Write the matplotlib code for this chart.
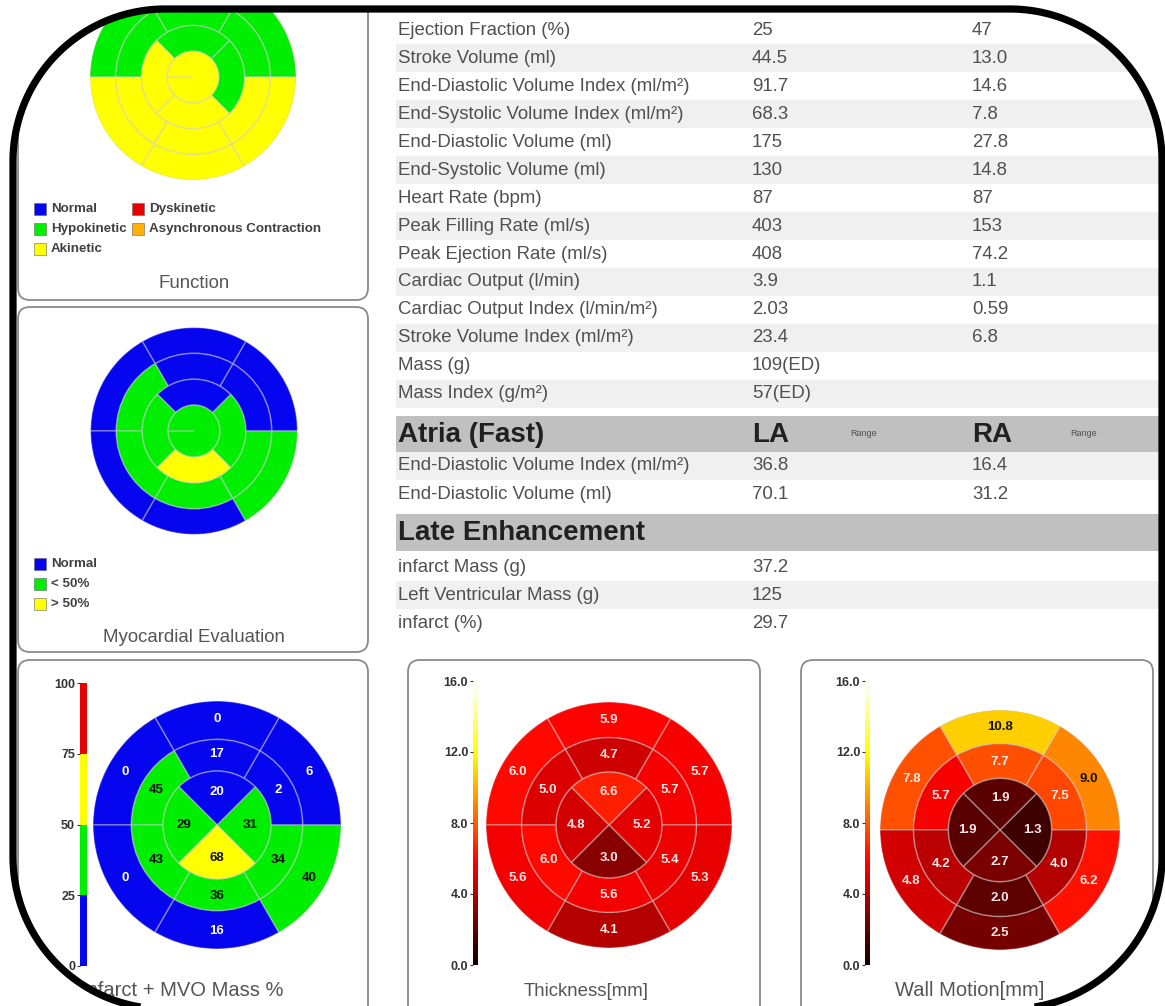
import numpy as np
import matplotlib
matplotlib.use("Agg")
import matplotlib.pyplot as plt
from matplotlib.patches import FancyBboxPatch, Rectangle, PathPatch
from matplotlib.path import Path
from matplotlib.colors import ListedColormap, BoundaryNorm, Normalize
from matplotlib.cm import ScalarMappable

plt.rcParams['font.family'] = ['Liberation Sans', 'DejaVu Sans']

# ---------------- table data ----------------
ventricle_labels = ["Ejection Fraction (%)", "Stroke Volume (ml)",
                    "End-Diastolic Volume Index (ml/m²)", "End-Systolic Volume Index (ml/m²)",
                    "End-Diastolic Volume (ml)", "End-Systolic Volume (ml)", "Heart Rate (bpm)",
                    "Peak Filling Rate (ml/s)", "Peak Ejection Rate (ml/s)", "Cardiac Output (l/min)",
                    "Cardiac Output Index (l/min/m²)", "Stroke Volume Index (ml/m²)", "Mass (g)",
                    "Mass Index (g/m²)"]
lv_values = ["25", "44.5", "91.7", "68.3", "175", "130", "87", "403", "408", "3.9", "2.03",
             "23.4", "109(ED)", "57(ED)"]
rv_values = ["47", "13.0", "14.6", "7.8", "27.8", "14.8", "87", "153", "74.2", "1.1", "0.59",
             "6.8", "", ""]
atria_labels = ["End-Diastolic Volume Index (ml/m²)", "End-Diastolic Volume (ml)"]
la_values = ["36.8", "70.1"]
ra_values = ["16.4", "31.2"]
late_labels = ["infarct Mass (g)", "Left Ventricular Mass (g)", "infarct (%)"]
late_values = ["37.2", "125", "29.7"]

# ---------------- bullseye data ----------------
# basal & mid rings ordered by segment centre angle 30,90,150,210,270,330 deg
# apical ring ordered by centre angle 0,90,180,270 deg
function_basal = ["Hypokinetic", "Hypokinetic", "Hypokinetic", "Akinetic", "Akinetic", "Akinetic"]
function_mid = ["Hypokinetic", "Hypokinetic", "Hypokinetic", "Akinetic", "Akinetic", "Akinetic"]
function_apical = ["Hypokinetic", "Hypokinetic", "Akinetic", "Akinetic"]
function_apex = "Akinetic"
function_legend = ["Normal", "Dyskinetic", "Hypokinetic", "Asynchronous Contraction", "Akinetic"]

myo_basal = ["Normal", "Normal", "Normal", "Normal", "Normal", "< 50%"]
myo_mid = ["Normal", "Normal", "< 50%", "< 50%", "< 50%", "< 50%"]
myo_apical = ["< 50%", "Normal", "< 50%", "> 50%"]
myo_apex = "< 50%"
myo_legend = ["Normal", "< 50%", "> 50%"]

infarct_basal = [6, 0, 0, 0, 16, 40]
infarct_mid = [2, 17, 45, 43, 36, 34]
infarct_apical = [31, 20, 29, 68]
infarct_bounds = [0, 25, 50, 75, 100]

thick_basal = [5.7, 5.9, 6.0, 5.6, 4.1, 5.3]
thick_mid = [5.7, 4.7, 5.0, 6.0, 5.6, 5.4]
thick_apical = [5.2, 6.6, 4.8, 3.0]

wall_basal = [9.0, 10.8, 7.8, 4.8, 2.5, 6.2]
wall_mid = [7.5, 7.7, 5.7, 4.2, 2.0, 4.0]
wall_apical = [1.3, 1.9, 1.9, 2.7]
mm_ticks = [0, 4, 8, 12, 16]

# ---------------- styling ----------------
BLUE, GREEN, YELLOW, RED, ORANGE = '#0505f0', '#00ee00', '#ffff00', '#e80000', '#ffb000'
cat_color = {"Normal": BLUE, "Dyskinetic": RED, "Hypokinetic": GREEN,
             "Asynchronous Contraction": ORANGE, "Akinetic": YELLOW,
             "< 50%": GREEN, "> 50%": YELLOW}
EDGE = dict(edgecolor=(0.8, 0.8, 0.8, 0.45), linewidth=1.1)
TXT = '#505050'
FS = 13.4

W, H = 1165, 1006
fig = plt.figure(figsize=(W / 100, H / 100), dpi=100)
base = fig.add_axes([0, 0, 1, 1])
base.set_xlim(0, W)
base.set_ylim(H, 0)
base.set_axis_off()

# ---------------- panels ----------------
def panel(x0, y0, x1, y1):
    base.add_patch(FancyBboxPatch((x0, y0), x1 - x0, y1 - y0,
                                  boxstyle="round,pad=0,rounding_size=12",
                                  facecolor='white', edgecolor='#8a8a8a', linewidth=1.3))

panel(18, -30, 368, 300)
panel(18, 307, 368, 652)
panel(18, 660, 368, 1040)
panel(408, 660, 760, 1040)
panel(801, 660, 1153, 1040)

base.text(194, 283, "Function", ha='center', va='center', fontsize=13.4, color='#555555')
base.text(194, 638, "Myocardial Evaluation", ha='center', va='center', fontsize=13.4, color='#555555')
base.text(182, 991, "Infarct + MVO Mass %", ha='center', va='center', fontsize=14.5, color='#555555')
base.text(586, 991, "Thickness[mm]", ha='center', va='center', fontsize=13.4, color='#555555')
base.text(970, 990, "Wall Motion[mm]", ha='center', va='center', fontsize=14.5, color='#555555')

# legends
def legend_item(x, y, label):
    base.add_patch(Rectangle((x, y - 6), 12, 12, facecolor=cat_color[label],
                             edgecolor='#666666', linewidth=0.4))
    base.text(x + 17, y, label, ha='left', va='center', fontsize=9.6,
              fontweight='bold', color='#404040')

func_pos = [(34, 209), (132, 209), (34, 229), (132, 229), (34, 249)]
for (x, y), lab in zip(func_pos, function_legend):
    legend_item(x, y, lab)
for i, lab in enumerate(myo_legend):
    legend_item(34, 564 + 20 * i, lab)

# ---------------- table ----------------
ROW0, PITCH = 30, 28
TX, C1, C2 = 398, 752, 972
for i, (lab, a, b) in enumerate(zip(ventricle_labels, lv_values, rv_values)):
    yc = ROW0 + PITCH * i
    if i % 2 == 1:
        base.add_patch(Rectangle((396, yc - 14), W, PITCH, facecolor='#f0f0f0', edgecolor='none'))
    base.text(TX, yc, lab, ha='left', va='center', fontsize=FS, color=TXT)
    base.text(C1, yc, a, ha='left', va='center', fontsize=FS, color=TXT)
    base.text(C2, yc, b, ha='left', va='center', fontsize=FS, color=TXT)

def header(yc, title, cols=None):
    base.add_patch(Rectangle((396, yc - 18), W, 37, facecolor='#c0c0c0', edgecolor='none'))
    base.text(TX, yc + 1, title, ha='left', va='center', fontsize=20,
              fontweight='bold', color='#202020')
    if cols:
        for x, s in cols:
            base.text(x, yc + 1, s, ha='left', va='center', fontsize=20,
                      fontweight='bold', color='#202020')
            base.text(x + 98, yc, "Range", ha='left', va='center', fontsize=6.5, color='#505050')

header(434, "Atria (Fast)", [(C1, "LA"), (C2, "RA")])
for i, (lab, a, b) in enumerate(zip(atria_labels, la_values, ra_values)):
    yc = 466 + PITCH * i
    if i % 2 == 0:
        base.add_patch(Rectangle((396, yc - 14), W, PITCH, facecolor='#f0f0f0', edgecolor='none'))
    base.text(TX, yc, lab, ha='left', va='center', fontsize=FS, color=TXT)
    base.text(C1, yc, a, ha='left', va='center', fontsize=FS, color=TXT)
    base.text(C2, yc, b, ha='left', va='center', fontsize=FS, color=TXT)

header(532, "Late Enhancement")
for i, (lab, a) in enumerate(zip(late_labels, late_values)):
    yc = 567 + PITCH * i
    if i % 2 == 1:
        base.add_patch(Rectangle((396, yc - 14), W, PITCH, facecolor='#f0f0f0', edgecolor='none'))
    base.text(TX, yc, lab, ha='left', va='center', fontsize=FS, color=TXT)
    base.text(C1, yc, a, ha='left', va='center', fontsize=FS, color=TXT)

# ---------------- bullseyes ----------------
RING_THETA = np.radians([30, 90, 150, 210, 270, 330])
APICAL_THETA = np.radians([0, 90, 180, 270])

def add_polar(cx, cy, R):
    ax = fig.add_axes([(cx - R) / W, 1 - (cy + R) / H, 2 * R / W, 2 * R / H], projection='polar')
    ax.set_ylim(0, 1)
    ax.set_axis_off()
    return ax

def draw_bullseye(ax, basal_c, mid_c, apical_c, r_ap, r_mid, apex_c=None, r_apex=None):
    ax.bar(RING_THETA, 1 - r_mid, width=np.radians(60), bottom=r_mid, color=basal_c, **EDGE)
    ax.bar(RING_THETA, r_mid - r_ap, width=np.radians(60), bottom=r_ap, color=mid_c, **EDGE)
    r0 = r_apex if r_apex else 0
    ax.bar(APICAL_THETA, r_ap - r0, width=np.radians(90), bottom=r0, color=apical_c, **EDGE)
    if apex_c is not None:
        ax.bar([0], r_apex, width=2 * np.pi, bottom=0, color=apex_c, **EDGE)

def label_bullseye(ax, basal, mid, apical, fmt, colfun, fs=9.5):
    for thetas, vals, r in ((RING_THETA, basal, 0.855), (RING_THETA, mid, 0.57),
                            (APICAL_THETA, apical, 0.27)):
        for t, v in zip(thetas, vals):
            ax.text(t, r, fmt.format(v), ha='center', va='center', fontsize=fs,
                    fontweight='bold', color=colfun(v))

# Function
ax = add_polar(193, 77, 103)
draw_bullseye(ax, [cat_color[c] for c in function_basal], [cat_color[c] for c in function_mid],
              [cat_color[c] for c in function_apical], 0.5, 0.75,
              cat_color[function_apex], 0.25)

# Myocardial evaluation
ax = add_polar(194, 431, 103.5)
draw_bullseye(ax, [cat_color[c] for c in myo_basal], [cat_color[c] for c in myo_mid],
              [cat_color[c] for c in myo_apical], 0.5, 0.75,
              cat_color[myo_apex], 0.25)

# Infarct + MVO
inf_cmap = ListedColormap([BLUE, GREEN, YELLOW, RED])
inf_norm = BoundaryNorm(infarct_bounds, inf_cmap.N)
ax = add_polar(217, 825, 124)
draw_bullseye(ax, inf_cmap(inf_norm(infarct_basal)), inf_cmap(inf_norm(infarct_mid)),
              inf_cmap(inf_norm(infarct_apical)), 0.435, 0.69)
label_bullseye(ax, infarct_basal, infarct_mid, infarct_apical, "{:d}",
               lambda v: 'white' if v < 25 else '#111111')

# Thickness
hot = plt.get_cmap('hot')
mm_norm = Normalize(0, 16)
ax = add_polar(609, 825, 123)
draw_bullseye(ax, hot(mm_norm(thick_basal)), hot(mm_norm(thick_mid)),
              hot(mm_norm(thick_apical)), 0.43, 0.71)
label_bullseye(ax, thick_basal, thick_mid, thick_apical, "{:.1f}",
               lambda v: '#ffe6e6')

# Wall motion
ax = add_polar(1000, 830, 120)
draw_bullseye(ax, hot(mm_norm(wall_basal)), hot(mm_norm(wall_mid)),
              hot(mm_norm(wall_apical)), 0.43, 0.72)
label_bullseye(ax, wall_basal, wall_mid, wall_apical, "{:.1f}",
               lambda v: '#111111' if v > 8.5 else '#ffe6e6')

# ---------------- colorbars ----------------
def colorbar(x, width, y0, y1, sm, ticks, fmt):
    cax = fig.add_axes([x / W, 1 - y1 / H, width / W, (y1 - y0) / H])
    cb = fig.colorbar(sm, cax=cax, ticks=ticks, format=fmt)
    cb.outline.set_visible(False)
    cax.yaxis.set_ticks_position('left')
    cax.tick_params(length=2, width=0.8, pad=1.5, labelsize=9, colors='#333333')
    for t in cax.get_yticklabels():
        t.set_fontweight('bold')
    return cb

colorbar(80, 7, 683, 966, ScalarMappable(inf_norm, inf_cmap), infarct_bounds, '%d')
colorbar(473, 5, 681, 965, ScalarMappable(mm_norm, hot), mm_ticks, '%.1f')
colorbar(865, 5, 681, 965, ScalarMappable(mm_norm, hot), mm_ticks, '%.1f')

# ---------------- outer rounded frame (mask + outline) ----------------
def rounded_rect(x0, y0, x1, y1, r, n=60):
    pts = []
    for (cx, cy), a0, a1 in (((x0 + r, y0 + r), 180, 270), ((x1 - r, y0 + r), 270, 360),
                             ((x1 - r, y1 - r), 0, 90), ((x0 + r, y1 - r), 90, 180)):
        t = np.radians(np.linspace(a0, a1, n))
        pts.extend(zip(cx + r * np.cos(t), cy + r * np.sin(t)))
    return np.array(pts)

inner = rounded_rect(13, 9, 1162, 1009, 152)
outer = np.array([(-60, -60), (W + 60, -60), (W + 60, H + 60), (-60, H + 60)])
verts = np.concatenate([outer, outer[:1], inner[::-1], inner[-1:]])
codes = ([Path.MOVETO] + [Path.LINETO] * 3 + [Path.CLOSEPOLY] +
         [Path.MOVETO] + [Path.LINETO] * (len(inner) - 1) + [Path.CLOSEPOLY])
over = fig.add_axes([0, 0, 1, 1], zorder=10)
over.set_xlim(0, W)
over.set_ylim(H, 0)
over.set_axis_off()
over.add_patch(PathPatch(Path(verts, codes), facecolor='white', edgecolor='none'))
frame_codes = [Path.MOVETO] + [Path.LINETO] * (len(inner) - 1) + [Path.CLOSEPOLY]
frame_path = Path(np.vstack([inner, inner[:1]]), frame_codes)
over.add_patch(PathPatch(frame_path, fill=False, edgecolor='black', linewidth=5.2,
                         joinstyle='round'))

fig.savefig("out.png", dpi=100)
